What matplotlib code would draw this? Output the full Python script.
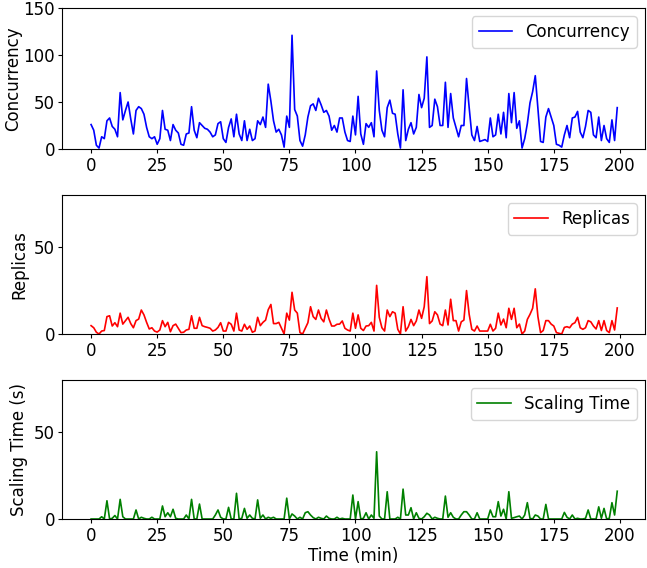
import numpy as np
import matplotlib
matplotlib.use('Agg')
import matplotlib.pyplot as plt

# values, one per minute (0..199)
concurrency = [
    26, 20, 4, 1, 13, 11, 30, 33, 24, 21, 13, 60, 31, 41, 50, 32, 16, 41, 45, 43,
    37, 23, 13, 11, 13, 5, 11, 41, 21, 20, 9, 26, 20, 17, 5, 4, 16, 17, 45, 20,
    12, 28, 25, 22, 21, 18, 13, 15, 27, 29, 11, 7, 23, 32, 13, 37, 16, 9, 30, 9,
    21, 9, 11, 30, 26, 34, 23, 69, 51, 30, 18, 21, 15, 2, 35, 23, 121, 42, 35, 9,
    3, 15, 34, 46, 48, 41, 54, 47, 39, 41, 35, 20, 25, 18, 33, 33, 18, 9, 8, 35,
    15, 56, 16, 5, 27, 23, 28, 13, 83, 41, 20, 13, 44, 52, 38, 37, 16, 1, 63, 9,
    21, 28, 16, 23, 58, 44, 54, 98, 23, 25, 53, 45, 25, 25, 71, 23, 59, 33, 23, 13,
    25, 25, 75, 44, 15, 9, 24, 8, 9, 10, 8, 33, 13, 15, 37, 16, 39, 12, 59, 28,
    60, 22, 30, 1, 11, 27, 49, 61, 78, 43, 8, 7, 34, 43, 34, 25, 5, 4, 2, 15,
    25, 12, 33, 34, 40, 18, 12, 24, 41, 39, 15, 12, 34, 9, 25, 11, 7, 31, 9, 44,
]
replicas = [
    4.8, 3.6, 1, 0, 1.7, 2, 10, 10.5, 4.6, 6.5, 4.2, 12, 5.7, 7.7, 9.6, 6, 3.6, 7.7, 8.6, 13.8,
    11, 6.7, 2.9, 3.6, 1.7, 1.1, 2.3, 7.7, 4.2, 6.7, 1.3, 4.8, 5.7, 3.3, 0.8, 1, 2.3, 2.7, 10.5, 3.3,
    3.3, 9.6, 4.8, 4.2, 3.8, 3.3, 1.7, 2.3, 3.8, 6.5, 1.7, 1.7, 6.7, 5.6, 1.7, 12, 2.3, 1.7, 5.6, 2.7,
    4.6, 1, 1.7, 9.6, 4.8, 6.7, 8, 14, 17, 6, 6, 6.7, 3.3, 0, 12, 8, 24, 13.8, 12, 0.8,
    0, 3.3, 6.5, 15.7, 10, 8.4, 13.8, 9, 7, 13.8, 8.6, 4.6, 4.6, 5.6, 5.7, 7.5, 3.3, 2.3, 1.7, 12,
    3.3, 11, 3.3, 2, 4.6, 4.8, 6.7, 1.7, 28, 9.6, 3.6, 1.7, 13.8, 10, 12.8, 12, 2.7, 0, 15.7, 1.7,
    4.2, 8.4, 4.8, 7.5, 13.8, 9, 15.7, 33, 6, 7.5, 12.8, 11, 5.7, 4.8, 13.8, 5.2, 20, 7.7, 7.7, 1.7,
    7, 8, 25, 11.3, 2.7, 1.7, 4.6, 1.7, 1.7, 1.7, 1.7, 5.6, 1.7, 3.3, 12, 5.2, 8.6, 3.6, 14.8, 8.4,
    14.8, 3.6, 5.7, 0, 1.7, 8.4, 11.3, 14.8, 26, 10, 0.8, 2, 7.7, 7.7, 5.7, 4.6, 0.8, 0.4, 0, 3.8,
    4.2, 3.6, 5.7, 6.5, 9.6, 3.6, 2.7, 3.6, 7.7, 7, 4.6, 2.9, 7.7, 2, 7.7, 2, 0.8, 7.7, 2.3, 15,
]
scaling_time = [
    0, 0, 0, 0, 1.3, 0, 10.5, 0, 0.4, 2, 0, 11.3, 1.3, 0, 0, 0, 0, 5.2, 0, 1,
    0.4, 0, 0, 1, 0, 0, 0, 7.5, 1.3, 3.6, 1.3, 5.6, 0.4, 0, 0, 0, 2.3, 0, 11.3, 0,
    0, 8.6, 0, 0, 0, 0, 0, 2.3, 5.2, 1, 0, 0, 6.7, 0, 0, 14.8, 0, 0.4, 6.1, 0.4,
    2.3, 0.4, 0, 11, 0.4, 2.3, 0, 1, 0.4, 1, 0, 0, 0, 0, 12, 0, 2.9, 1.7, 0, 1,
    0, 3.6, 4.2, 2.3, 0.8, 0, 1, 0.4, 0, 1.7, 0.4, 0, 0, 1, 0, 0.4, 0, 0, 0, 13.8,
    0, 10, 0, 0.4, 3.6, 0, 2.3, 0.4, 38.7, 1.7, 0, 0, 15.7, 0, 0, 0, 1, 0, 17.2, 2.3,
    2.3, 6.5, 0, 3.6, 0.4, 0, 1.3, 3.3, 2.3, 0, 1, 0.4, 0, 0, 13.2, 1, 3.6, 1, 0, 0,
    2.3, 4.2, 4.2, 2.3, 0, 0, 3.6, 0, 0, 0, 0, 5.2, 1.3, 1.3, 10, 1.7, 5.6, 0, 15.7, 0.4,
    0.8, 1.3, 1.7, 0, 2.3, 9.4, 0.4, 0, 2.3, 1.7, 0, 0, 8.4, 0, 0, 0, 0, 0, 0, 3.8,
    1, 0, 2.3, 0, 0.4, 0, 0, 0.4, 5.2, 0, 0, 0, 7, 0.4, 6.1, 0, 0.4, 9.4, 2.3, 16,
]
minutes = np.arange(len(concurrency))

plt.rcParams['font.family'] = ['DejaVu Sans']
plt.rcParams['font.size'] = 12
plt.rcParams['xtick.major.size'] = 3
plt.rcParams['ytick.major.size'] = 3
plt.rcParams['ytick.major.pad'] = 2
plt.rcParams['xtick.major.pad'] = 3

fig = plt.figure(figsize=(6.47, 5.68), dpi=100)
H = 568.0
W = 647.0

def add_panel(top, bottom):
    return fig.add_axes([62 / W, 1 - bottom / H, (645 - 62) / W, (bottom - top) / H])

ax1 = add_panel(8, 149)
ax2 = add_panel(195, 334)
ax3 = add_panel(380, 519)

ax1.plot(minutes, concurrency, color='blue', lw=1.2, label='Concurrency')
ax1.set_ylim(0, 150)
ax1.set_yticks([0, 50, 100, 150])
ax1.set_ylabel('Concurrency', labelpad=1)

ax2.plot(minutes, replicas, color='red', lw=1.2, label='Replicas')
ax2.set_ylim(0, 80)
ax2.set_yticks([0, 50])
ax2.set_ylabel('Replicas', labelpad=4)

ax3.plot(minutes, scaling_time, color='green', lw=1.2, label='Scaling Time')
ax3.set_ylim(0, 80)
ax3.set_yticks([0, 50])
ax3.set_ylabel('Scaling Time (s)', labelpad=4)
ax3.set_xlabel('Time (min)', labelpad=1)

for ax in (ax1, ax2, ax3):
    ax.set_xlim(-11, 209.5)
    ax.set_xticks(range(0, 201, 25))
    ax.legend(loc='upper right', fontsize=12)

fig.savefig('out.png', dpi=100)
